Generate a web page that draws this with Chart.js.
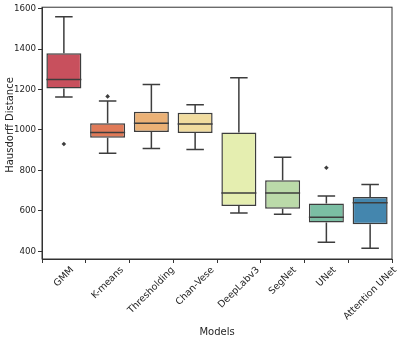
<!DOCTYPE html>
<html>
<head>
<meta charset="utf-8">
<script src="https://cdn.jsdelivr.net/npm/chart.js@4.4.0/dist/chart.umd.min.js"></script>
<style>
  html, body { margin: 0; padding: 0; background: #fff; }
  #wrap { width: 399px; height: 341px; }
</style>
</head>
<body>
<div id="wrap"><canvas id="boxChart"></canvas></div>
<script>
// data
const models = ["GMM", "K-means", "Thresholding", "Chan-Vese", "DeepLabv3", "SegNet", "UNet", "Attention UNet"];
const whiskerLow  = [1163,  885,  908,  904,  589,  583,  445,  415];
const q1          = [1205,  961,  990,  985,  624,  611,  542,  534];
const median      = [1249,  987, 1033, 1030,  688,  688,  568,  640];
const q3          = [1379, 1033, 1090, 1085,  987,  752,  636,  668];
const whiskerHigh = [1560, 1143, 1225, 1125, 1258,  865,  673,  731];
const outlierModels = ["GMM", "K-means", "UNet"];
const outlierValues = [931, 1166, 813];
const yTicks = [400, 600, 800, 1000, 1200, 1400, 1600];

const boxColors = ["#c8505d", "#e07a58", "#ebb176", "#f1dc9f", "#e5eeb0", "#bbdaa9", "#7bbea3", "#4486ae"];
const lineColor = "#3d3d3d";
const font = "DejaVu Sans";

const boxPlotPlugin = {
  id: "boxParts",
  beforeDatasetsDraw(chart) {
    const ctx = chart.ctx;
    const y = chart.scales.y;
    const bars = chart.getDatasetMeta(0).data;
    ctx.save();
    ctx.strokeStyle = lineColor;
    ctx.lineWidth = 1.5;
    bars.forEach((bar, i) => {
      const cx = bar.x;
      const half = bar.width / 4;
      ctx.beginPath();
      ctx.moveTo(cx, y.getPixelForValue(q3[i]));
      ctx.lineTo(cx, y.getPixelForValue(whiskerHigh[i]));
      ctx.moveTo(cx, y.getPixelForValue(q1[i]));
      ctx.lineTo(cx, y.getPixelForValue(whiskerLow[i]));
      ctx.moveTo(cx - half, y.getPixelForValue(whiskerHigh[i]));
      ctx.lineTo(cx + half, y.getPixelForValue(whiskerHigh[i]));
      ctx.moveTo(cx - half, y.getPixelForValue(whiskerLow[i]));
      ctx.lineTo(cx + half, y.getPixelForValue(whiskerLow[i]));
      ctx.stroke();
    });
    ctx.restore();
  },
  afterDatasetsDraw(chart) {
    const ctx = chart.ctx;
    const y = chart.scales.y;
    const bars = chart.getDatasetMeta(0).data;
    ctx.save();
    ctx.strokeStyle = lineColor;
    ctx.lineWidth = 1.5;
    bars.forEach((bar, i) => {
      const py = y.getPixelForValue(median[i]);
      ctx.beginPath();
      ctx.moveTo(bar.x - bar.width / 2, py);
      ctx.lineTo(bar.x + bar.width / 2, py);
      ctx.stroke();
    });
    ctx.restore();
  },
  afterDraw(chart) {
    const ctx = chart.ctx;
    const area = chart.chartArea;
    const x = chart.scales.x;
    ctx.save();
    // frame
    ctx.strokeStyle = "#333";
    ctx.lineWidth = 1;
    ctx.strokeRect(area.left, area.top, area.right - area.left, area.bottom - area.top);

    // rotated category labels, centred under the ticks
    ctx.fillStyle = "#262626";
    ctx.font = "9.5px '" + font + "'";
    ctx.textAlign = "center";
    ctx.textBaseline = "middle";
    models.forEach((m, i) => {
      const w = ctx.measureText(m).width;
      const h = 9.5 * 0.75;
      const halfBox = (w + h) * Math.SQRT1_2 / 2;
      const cx = x.getPixelForValue(i);
      const cy = area.bottom + 4 + 3 + halfBox;
      ctx.save();
      ctx.translate(cx, cy);
      ctx.rotate(-Math.PI / 4);
      ctx.fillText(m, 0, 0);
      ctx.restore();
    });

    // axis titles
    ctx.font = "10px '" + font + "'";
    ctx.fillText("Models", (area.left + area.right) / 2, 332);
    ctx.save();
    ctx.translate(10, 125);
    ctx.rotate(-Math.PI / 2);
    ctx.fillText("Hausdorff Distance", 0, 0);
    ctx.restore();
    ctx.restore();
  }
};

const ctx = document.getElementById("boxChart").getContext("2d");
const boxChart = new Chart(ctx, {
  type: "bar",
  data: {
    labels: models,
    datasets: [{
      type: "bar",
      data: models.map((m, i) => [q1[i], q3[i]]),
      backgroundColor: boxColors,
      borderColor: lineColor,
      borderWidth: 1.5,
      borderSkipped: false,
      categoryPercentage: 0.8,
      barPercentage: 1.0
    }, {
      type: "line",
      data: outlierModels.map((m, i) => ({ x: m, y: outlierValues[i] })),
      showLine: false,
      pointStyle: "rectRot",
      pointRadius: 2.3,
      backgroundColor: lineColor,
      borderColor: lineColor,
      borderWidth: 0
    }]
  },
  options: {
    responsive: true,
    maintainAspectRatio: false,
    animation: false,
    layout: { padding: { top: 6, right: 7, left: 0, bottom: 0 } },
    plugins: { legend: { display: false }, tooltip: { enabled: false } },
    scales: {
      x: {
        type: "category",
        offset: true,
        grid: { drawOnChartArea: false, drawTicks: true, tickLength: 4, color: "#333" },
        border: { display: true, color: "#333" },
        ticks: { display: false },
        afterFit: (scale) => { scale.height = 82; }
      },
      y: {
        min: 362,
        max: 1607,
        grid: { drawOnChartArea: false, drawTicks: true, tickLength: 4, color: "#333" },
        border: { display: true, color: "#333" },
        ticks: {
          color: "#262626",
          padding: 2,
          font: { family: font, size: 8.7 },
          callback: (v) => String(v)
        },
        afterBuildTicks: (scale) => { scale.ticks = yTicks.map(v => ({ value: v })); },
        afterFit: (scale) => { scale.width = 42; }
      }
    }
  },
  plugins: [boxPlotPlugin]
});
</script>
</body>
</html>
